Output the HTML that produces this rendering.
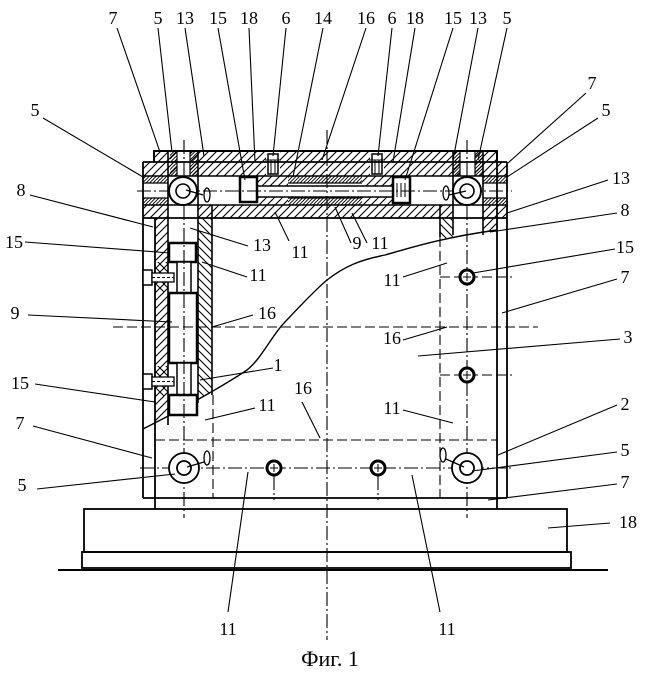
<!DOCTYPE html>
<html><head><meta charset="utf-8"><style>
html,body{margin:0;padding:0;background:#fff;}
svg{display:block}
text{font-family:"Liberation Serif",serif;font-size:18px;fill:#000;text-anchor:middle}
</style></head><body>
<svg width="646" height="675" viewBox="0 0 646 675" xmlns="http://www.w3.org/2000/svg">
<defs>
<pattern id="h1" patternUnits="userSpaceOnUse" width="8" height="8"><path d="M-1,9 L9,-1 M-1,1 L1,-1 M7,9 L9,7" stroke="#000" stroke-width="1.1"/></pattern>
<pattern id="h2" patternUnits="userSpaceOnUse" width="8" height="8"><path d="M-1,-1 L9,9 M7,-1 L9,1 M-1,7 L1,9" stroke="#000" stroke-width="1.1"/></pattern>
<pattern id="hd" patternUnits="userSpaceOnUse" width="3.5" height="3.5"><path d="M0,3.5 L3.5,0 M-1,1 L1,-1 M2.5,4.5 L4.5,2.5" stroke="#000" stroke-width="0.9"/></pattern>
<clipPath id="above"><path d="M140,218 H510 V229 L497,230 C440,238 410,248 385,255 C360,260 345,266 327,280 C315,290 300,306 285,322 C272,335 262,358 247,370 C225,385 200,398 180,410 L143,429 L140,431 Z"/></clipPath>
</defs>

<rect x="154" y="151" width="343" height="11" fill="url(#h1)"/>
<rect x="143" y="162" width="364" height="14" fill="url(#h1)"/>
<rect x="143" y="205" width="364" height="13" fill="url(#h1)"/>
<rect x="143" y="176" width="25" height="7" fill="url(#hd)"/>
<rect x="143" y="198" width="25" height="7" fill="url(#hd)"/>
<rect x="483" y="176" width="24" height="7" fill="url(#hd)"/>
<rect x="483" y="198" width="24" height="7" fill="url(#hd)"/>
<rect x="257" y="176" width="31" height="10" fill="url(#h1)"/>
<rect x="257" y="197" width="31" height="8" fill="url(#h1)"/>
<rect x="362" y="176" width="31" height="10" fill="url(#h1)"/>
<rect x="362" y="197" width="31" height="8" fill="url(#h1)"/>
<rect x="288" y="176" width="74" height="7" fill="url(#hd)"/>
<rect x="288" y="198" width="74" height="7" fill="url(#hd)"/>
<rect x="170" y="151" width="7" height="25" fill="url(#hd)"/>
<rect x="190" y="151" width="8" height="25" fill="url(#hd)"/>
<rect x="453" y="151" width="7" height="25" fill="url(#hd)"/>
<rect x="475" y="151" width="8" height="25" fill="url(#hd)"/>
<rect x="177" y="151" width="13" height="25" fill="#fff"/>
<rect x="460" y="151" width="15" height="25" fill="#fff"/>
<rect x="168" y="205" width="30" height="13" fill="#fff"/>
<rect x="453" y="205" width="30" height="13" fill="#fff"/>
<rect x="266" y="152" width="14" height="24" fill="#fff"/>
<rect x="370" y="152" width="14" height="24" fill="#fff"/>

<g clip-path="url(#above)">
<rect x="155" y="218" width="13" height="220" fill="url(#h1)"/>
<rect x="155" y="262" width="13" height="30" fill="url(#h2)"/>
<rect x="155" y="366" width="13" height="30" fill="url(#h2)"/>
<rect x="198" y="218" width="14" height="200" fill="url(#h2)"/>
<rect x="440" y="218" width="13" height="25" fill="url(#h2)"/>
<rect x="483" y="218" width="14" height="25" fill="url(#h1)"/>
</g>

<g stroke="#000" fill="none" stroke-linecap="butt">
<path d="M154,162 V151 H497 V162" stroke-width="2"/>
<line x1="143" y1="162" x2="507" y2="162" stroke-width="1.8"/>
<line x1="143" y1="162" x2="143" y2="498" stroke-width="1.8"/>
<line x1="155" y1="218" x2="155" y2="509" stroke-width="1.8"/>
<line x1="497" y1="151" x2="497" y2="509" stroke-width="1.8"/>
<line x1="507" y1="162" x2="507" y2="498" stroke-width="1.8"/>
<line x1="143" y1="498" x2="507" y2="498" stroke-width="1.8"/>
<line x1="143" y1="176" x2="507" y2="176" stroke-width="1.4"/>
<line x1="143" y1="205" x2="507" y2="205" stroke-width="1.4"/>
<line x1="143" y1="218" x2="507" y2="218" stroke-width="1.8"/>
<path d="M143,183 H168 M483,183 H507 M288,183 H362 M143,198 H168 M483,198 H507 M288,198 H362" stroke-width="1.2"/>
<path d="M168,151 V425 M198,151 V403 M212,205 V395 M440,205 V237 M453,151 V235 M483,151 V235" stroke-width="1.6"/>
<path d="M177,151 V176 M190,151 V176 M460,151 V176 M475,151 V176" stroke-width="1.2"/>
<path d="M257,186 H393 M257,197 H393" stroke-width="1.5"/>
<rect x="240" y="177" width="17" height="25" stroke-width="2.5" fill="#fff"/>
<rect x="393" y="177" width="17" height="26" stroke-width="2.5" fill="#fff"/>
<path d="M397,183 V197 M401,183 V197 M405,183 V197" stroke-width="1"/>
<rect x="268" y="154" width="10" height="20" stroke-width="1.5"/>
<path d="M265,160 H281 M271,160 V174 M275,160 V174" stroke-width="1"/>
<rect x="372" y="154" width="10" height="20" stroke-width="1.5"/>
<path d="M369,160 H385 M375,160 V174 M379,160 V174" stroke-width="1"/>

<path d="M143,429 L180,410 C200,398 225,385 247,370 C262,358 272,335 285,322 C300,306 315,290 327,280 C345,266 360,260 385,255 C410,248 440,238 497,230" stroke-width="1.4"/>

<rect x="169" y="243" width="27" height="19" stroke-width="2.5" fill="#fff"/>
<rect x="177" y="262" width="14" height="31" stroke-width="1.5" fill="#fff"/>
<rect x="169" y="293" width="28" height="70" stroke-width="2.5" fill="#fff"/>
<rect x="177" y="363" width="14" height="32" stroke-width="1.5" fill="#fff"/>
<rect x="169" y="395" width="28" height="20" stroke-width="2.5" fill="#fff"/>
<rect x="143" y="270" width="9" height="15" stroke-width="1.5" fill="#fff"/>
<rect x="152" y="273" width="22" height="9" stroke-width="1.3" fill="#fff"/>
<line x1="152" y1="277.5" x2="174" y2="277.5" stroke-width="0.9" stroke-dasharray="3 2"/>
<rect x="143" y="374" width="9" height="15" stroke-width="1.5" fill="#fff"/>
<rect x="152" y="377" width="22" height="9" stroke-width="1.3" fill="#fff"/>
<line x1="152" y1="381.5" x2="174" y2="381.5" stroke-width="0.9" stroke-dasharray="3 2"/>

<g stroke-width="1.1" stroke-dasharray="14 3 2 3">
<line x1="137" y1="191" x2="512" y2="191"/>
<line x1="140" y1="468" x2="512" y2="468"/>
<line x1="184" y1="140" x2="184" y2="518"/>
<line x1="467" y1="140" x2="467" y2="518"/>
<line x1="327" y1="130" x2="327" y2="640"/>
<line x1="274" y1="476" x2="274" y2="500"/>
<line x1="378" y1="476" x2="378" y2="500"/>
</g>
<g stroke-width="1.1" stroke-dasharray="10 4">
<line x1="113" y1="327" x2="538" y2="327"/>
<line x1="155" y1="440" x2="497" y2="440"/>
<line x1="213" y1="395" x2="213" y2="498"/>
<line x1="440" y1="237" x2="440" y2="498"/>
<line x1="440" y1="277" x2="512" y2="277"/>
<line x1="440" y1="375" x2="512" y2="375"/>
</g>

<circle cx="183" cy="191" r="14" stroke-width="2" fill="#fff"/>
<circle cx="183" cy="191" r="7" stroke-width="1.6"/>
<circle cx="467" cy="191" r="14" stroke-width="2" fill="#fff"/>
<circle cx="467" cy="191" r="7" stroke-width="1.6"/>
<circle cx="184" cy="468" r="15" stroke-width="1.8" fill="#fff"/>
<circle cx="184" cy="468" r="7" stroke-width="1.8"/>
<circle cx="467" cy="468" r="15" stroke-width="1.8" fill="#fff"/>
<circle cx="467" cy="468" r="7" stroke-width="1.8"/>
<g stroke-width="1">
<circle cx="467" cy="277" r="7" stroke-width="3" fill="#fff"/>
<path d="M463,277 H471 M467,273 V281"/>
<circle cx="467" cy="375" r="7" stroke-width="3" fill="#fff"/>
<path d="M463,375 H471 M467,371 V379"/>
<circle cx="274" cy="468" r="7" stroke-width="3" fill="#fff"/>
<path d="M270,468 H278 M274,464 V472"/>
<circle cx="378" cy="468" r="7" stroke-width="3" fill="#fff"/>
<path d="M374,468 H382 M378,464 V472"/>
</g>
<g stroke-width="1.3">
<ellipse cx="207" cy="195" rx="3" ry="7"/>
<ellipse cx="446" cy="193" rx="3" ry="7"/>
<ellipse cx="207" cy="458" rx="3" ry="7"/>
<ellipse cx="443" cy="455" rx="3" ry="7"/>
<path d="M203,195 L186,190 M449,195 L466,191 M204,462 L187,467 M446,459 L464,467"/>
</g>

<rect x="84" y="509" width="483" height="43" stroke-width="1.8"/>
<rect x="82" y="552" width="489" height="16" stroke-width="1.8"/>
<line x1="58" y1="570" x2="608" y2="570" stroke-width="2"/>

<g stroke-width="1.1">
<path d="M117,28 L160,152"/>
<path d="M158,28 L172,152"/>
<path d="M185,28 L204,156"/>
<path d="M218,28 L245,180"/>
<path d="M249,28 L255,162"/>
<path d="M286,28 L273,156"/>
<path d="M323,28 L293,177"/>
<path d="M366,28 L322,160"/>
<path d="M392,28 L378,156"/>
<path d="M415,28 L393,162"/>
<path d="M453,28 L405,180"/>
<path d="M478,28 L453,160"/>
<path d="M507,28 L478,160"/>
<path d="M586,93 L508,163"/>
<path d="M598,118 L507,177"/>
<path d="M608,180 L507,213"/>
<path d="M617,213 L490,232"/>
<path d="M615,249 L473,273"/>
<path d="M617,279 L502,313"/>
<path d="M620,339 L418,356"/>
<path d="M617,405 L498,455"/>
<path d="M617,452 L472,471"/>
<path d="M617,484 L488,500"/>
<path d="M610,523 L548,528"/>
<path d="M43,118 L143,177"/>
<path d="M30,195 L153,227"/>
<path d="M25,242 L170,253"/>
<path d="M28,315 L172,322"/>
<path d="M35,384 L155,402"/>
<path d="M33,426 L152,458"/>
<path d="M37,489 L175,474"/>
<path d="M190,228 L248,246"/>
<path d="M275,212 L289,241"/>
<path d="M335,207 L351,243"/>
<path d="M352,213 L367,243"/>
<path d="M202,262 L247,277"/>
<path d="M212,327 L253,315"/>
<path d="M200,380 L273,368"/>
<path d="M205,420 L255,408"/>
<path d="M302,402 L320,438"/>
<path d="M403,277 L447,263"/>
<path d="M403,340 L447,327"/>
<path d="M403,410 L453,423"/>
<path d="M228,612 L248,472"/>
<path d="M440,612 L412,475"/>
</g>
</g>

<g>
<text x="113" y="24">7</text>
<text x="158" y="24">5</text>
<text x="185" y="24">13</text>
<text x="218" y="24">15</text>
<text x="249" y="24">18</text>
<text x="286" y="24">6</text>
<text x="323" y="24">14</text>
<text x="366" y="24">16</text>
<text x="392" y="24">6</text>
<text x="415" y="24">18</text>
<text x="453" y="24">15</text>
<text x="478" y="24">13</text>
<text x="507" y="24">5</text>
<text x="592" y="89">7</text>
<text x="606" y="116">5</text>
<text x="621" y="184">13</text>
<text x="625" y="216">8</text>
<text x="625" y="253">15</text>
<text x="625" y="283">7</text>
<text x="628" y="343">3</text>
<text x="625" y="410">2</text>
<text x="625" y="456">5</text>
<text x="625" y="488">7</text>
<text x="628" y="528">18</text>
<text x="35" y="116">5</text>
<text x="21" y="196">8</text>
<text x="14" y="248">15</text>
<text x="15" y="319">9</text>
<text x="20" y="389">15</text>
<text x="20" y="429">7</text>
<text x="22" y="491">5</text>
<text x="262" y="251">13</text>
<text x="300" y="258">11</text>
<text x="357" y="249">9</text>
<text x="380" y="249">11</text>
<text x="258" y="281">11</text>
<text x="267" y="319">16</text>
<text x="278" y="371">1</text>
<text x="267" y="411">11</text>
<text x="303" y="394">16</text>
<text x="392" y="286">11</text>
<text x="392" y="344">16</text>
<text x="392" y="414">11</text>
<text x="228" y="635">11</text>
<text x="447" y="635">11</text>
<text x="330" y="666" style="font-size:22px">Фиг. 1</text>
</g>
</svg>
</body></html>
